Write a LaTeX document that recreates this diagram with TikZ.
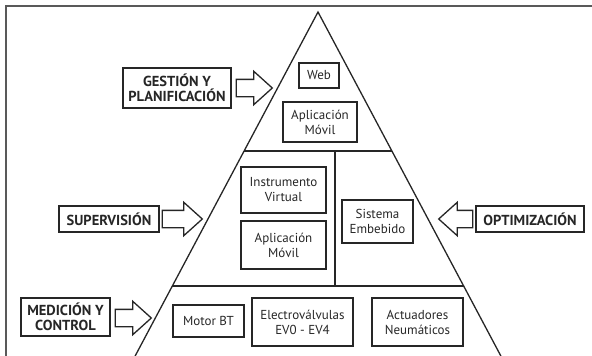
\documentclass[tikz,border=0pt]{standalone}
\usepackage{fontspec}
\setmainfont{PT Sans}
\usetikzlibrary{shapes.arrows,calc}
\begin{document}
\begin{tikzpicture}[x=1pt,y=-1pt,
  ink/.style={draw=black!85, line width=1.3pt},
  item/.style={ink, rectangle, align=center, inner sep=0pt, text=black!85,
    font=\fontsize{13}{15}\selectfont},
  tag/.style={item, font=\bfseries\fontsize{14.5}{15.5}\selectfont},
  flow/.style={ink, single arrow, inner sep=0pt, minimum height=36pt,
    single arrow head extend=8pt, single arrow tip angle=84, fill=white},
  frame/.style={draw=black!65, line width=1.5pt}
]
\useasboundingbox (0,0) rectangle (592,356);

% outer frame (top and left edges)
\draw[frame] (6,370) -- (6,6) -- (610,6);

% pyramid outline and level dividers
\coordinate (apex) at (318,12);
\coordinate (bl) at (133,360);
\coordinate (br) at (503,360);
\draw[ink, line join=miter] (bl) -- (apex) -- (br);
\coordinate (d1l) at ($(apex)!0.3994!(bl)$);
\coordinate (d1r) at ($(apex)!0.3994!(br)$);
\coordinate (d2l) at ($(apex)!0.7874!(bl)$);
\coordinate (d2r) at ($(apex)!0.7874!(br)$);
\draw[ink] (d1l) -- (d1r);
\draw[ink] (d2l) -- (d2r);
\coordinate (v1) at (335,151);
\coordinate (v2) at (335,286);
\draw[ink] (v1) -- (v2);

% top level
\node[item, minimum width=40pt, minimum height=25pt] (web) at (319,75.5) {Web};
\node[item, minimum width=74pt, minimum height=40pt] (app1) at (320,122) {Aplicación\\Móvil};

% middle level
\node[item, minimum width=85pt, minimum height=46pt] (inst) at (283.5,190) {Instrumento\\Virtual};
\node[item, minimum width=85pt, minimum height=48pt] (app2) at (283.5,245) {Aplicación\\Móvil};
\node[item, minimum width=71pt, minimum height=43pt] (emb) at (377.5,221.5) {Sistema\\Embebido};

% bottom level
\node[item, minimum width=71pt, minimum height=32pt] (motor) at (208.5,321) {Motor BT};
\node[item, minimum width=101pt, minimum height=48pt] (ev) at (302.5,322) {Electroválvulas\\EV0 - EV4};
\node[item, minimum width=91pt, minimum height=48pt] (act) at (417.5,322) {Actuadores\\Neumáticos};

% level labels
\node[tag, minimum width=108pt, minimum height=40pt] (gest) at (177,88) {GESTIÓN Y\\PLANIFICACIÓN};
\node[tag, minimum width=100pt, minimum height=26pt] (sup) at (109,219) {SUPERVISIÓN};
\node[tag, minimum width=108pt, minimum height=26pt] (opt) at (530,219) {OPTIMIZACIÓN};
\node[tag, minimum width=89pt, minimum height=38pt] (med) at (65.5,317) {MEDICIÓN Y\\CONTROL};

% block arrows pointing into the pyramid
\node[flow, anchor=tail] (ag) at ($(gest.east)+(4,0)$) {\rule{0pt}{16pt}};
\node[flow, anchor=tail, minimum height=40pt] (as) at ($(sup.east)+(2,0)$) {\rule{0pt}{16pt}};
\node[flow, anchor=tail, minimum height=34pt, shape border rotate=180] (ao) at ($(opt.west)+(-2,0)$) {\rule{0pt}{16pt}};
\node[flow, anchor=tail] (am) at ($(med.east)+(4,1)$) {\rule{0pt}{16pt}};
\end{tikzpicture}
\end{document}
